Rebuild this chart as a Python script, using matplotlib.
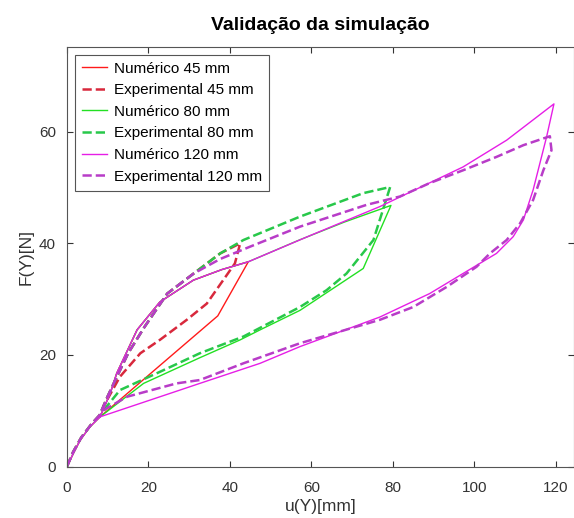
import matplotlib
matplotlib.use("Agg")
import matplotlib.pyplot as plt

plt.rcParams["font.family"] = ["Liberation Sans", "DejaVu Sans"]

# Numerical curves (loading then unloading)
num45_x = [0, 1.6, 3.2, 5.6, 8.1, 10.6, 12.2, 17.2, 22.8, 31.0, 38.0, 44.5, 37.0, 8.1]
num45_y = [0, 2.4, 4.7, 7.1, 8.9, 13.1, 16.7, 24.5, 29.5, 33.4, 35.3, 36.7, 27.0, 8.9]

num80_x = [0, 1.6, 3.2, 5.6, 8.1, 10.6, 12.2, 17.2, 22.8, 31.0, 38.0, 44.5, 57.0, 68.0,
           79.5, 72.7, 57.2, 47.4, 42.5, 32.6, 18.8, 8.1]
num80_y = [0, 2.4, 4.7, 7.1, 8.9, 13.1, 16.7, 24.5, 29.5, 33.4, 35.3, 36.7, 40.6, 43.8,
           46.8, 35.5, 28.0, 24.5, 22.7, 19.5, 14.9, 8.9]

num120_x = [0, 1.6, 3.2, 5.6, 8.1, 10.6, 12.2, 17.2, 22.8, 31.0, 38.0, 44.5, 60.0, 76.8,
            97.2, 107.9, 119.5, 117.7, 114.4, 112.0, 109.5, 105.4, 97.2, 89.0, 76.8,
            57.2, 47.4, 32.6, 26.9, 8.1]
num120_y = [0, 2.4, 4.7, 7.1, 8.9, 13.1, 16.7, 24.5, 29.5, 33.4, 35.3, 36.7, 41.5, 46.6,
            53.7, 58.5, 65.0, 59.1, 49.6, 44.2, 41.2, 38.2, 34.6, 31.0, 26.8,
            21.5, 18.5, 14.9, 13.5, 8.9]

# Experimental curves
exp45_x = [0, 1.5, 3.5, 6.0, 8.0, 10.0, 12.5, 15.0, 19.0, 24.6, 31.1, 37.6, 42.5,
           41.2, 34.3, 29.4, 22.8, 18.0, 13.0, 8.9]
exp45_y = [0, 2.6, 5.2, 7.6, 9.2, 12.6, 16.5, 20.3, 25.0, 31.0, 34.6, 38.2, 40.0,
           36.4, 29.2, 26.3, 22.7, 20.3, 16.1, 10.7]

exp80_x = [0, 1.5, 3.5, 6.0, 8.0, 10.0, 12.5, 15.0, 19.0, 24.6, 31.1, 37.6, 43.3, 57.2,
           72.7, 79.3, 75.2, 68.6, 63.7, 57.2, 43.3, 32.6, 22.0, 13.0, 10.0, 8.5]
exp80_y = [0, 2.6, 5.2, 7.6, 9.2, 12.6, 16.5, 20.3, 25.0, 31.0, 34.6, 38.2, 40.6, 44.8,
           49.0, 50.1, 40.6, 34.6, 31.6, 28.6, 23.3, 20.3, 16.7, 13.7, 11.0, 9.5]

exp120_x = [0, 1.5, 3.5, 6.0, 8.0, 10.0, 12.5, 15.0, 19.0, 24.6, 31.1, 37.6, 44.9, 57.2,
            73.5, 81.7, 89.0, 97.2, 105.4, 112.0, 118.5, 118.9, 116.9, 114.4, 111.2,
            107.9, 103.8, 100.5, 93.2, 85.0, 76.8, 57.2, 43.3, 32.6, 26.9, 14.7, 9.0, 8.0]
exp120_y = [0, 2.6, 5.2, 7.6, 9.2, 12.6, 16.5, 20.3, 25.0, 31.0, 34.6, 37.2, 39.4, 43.0,
            46.9, 48.4, 50.8, 53.1, 55.5, 57.6, 59.2, 56.7, 53.1, 47.8, 43.6,
            40.6, 38.2, 35.8, 32.2, 28.6, 26.3, 22.1, 18.5, 15.5, 14.9, 12.5, 10.1, 9.0]

xticks = [0, 20, 40, 60, 80, 100, 120]
yticks = [0, 20, 40, 60]

fig = plt.figure(figsize=(5.74, 5.18), dpi=100)
ax = fig.add_axes([67 / 574, 51.5 / 518, 506.5 / 574, 419.5 / 518])

ax.plot(num45_x, num45_y, "-", color="#ff1a1a", lw=1.0, label="Numérico 45 mm")
ax.plot(exp45_x, exp45_y, "--", color="#d8283c", lw=1.8, label="Experimental 45 mm")
ax.plot(num80_x, num80_y, "-", color="#22e022", lw=1.0, label="Numérico 80 mm")
ax.plot(exp80_x, exp80_y, "--", color="#28c84a", lw=1.8, label="Experimental 80 mm")
ax.plot(num120_x, num120_y, "-", color="#e61ee6", lw=1.0, label="Numérico 120 mm")
ax.plot(exp120_x, exp120_y, "--", color="#b83cc8", lw=1.8, label="Experimental 120 mm")

ax.set_xlim(0, 124.3)
ax.set_ylim(0, 75.2)
ax.set_xticks(xticks)
ax.set_yticks(yticks)
ax.tick_params(direction="in", top=True, right=True, length=4, width=0.8,
               labelsize=11, colors="#333333")
ax.tick_params(axis="x", pad=10.5)
ax.tick_params(axis="y", pad=8)
for s in ax.spines.values():
    s.set_color("#555555")
    s.set_linewidth(0.8)

ax.set_title("Validação da simulação", fontsize=14, fontweight="bold", pad=12)
ax.set_xlabel("u(Y)[mm]", fontsize=12.5, labelpad=3, color="#333333")
ax.set_ylabel("F(Y)[N]", fontsize=12.5, labelpad=4, color="#333333")

leg = ax.legend(loc="upper left", fontsize=11, fancybox=False, framealpha=1,
                edgecolor="#555555", handlelength=1.7, handletextpad=0.45,
                labelspacing=0.5, borderpad=0.45, borderaxespad=0.5)
leg.get_frame().set_linewidth(0.8)

fig.savefig("out.png", dpi=100)
